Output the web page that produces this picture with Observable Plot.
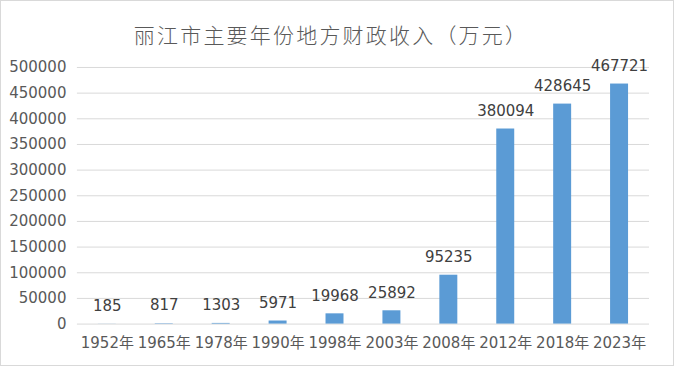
<!DOCTYPE html>
<html>
<head>
<meta charset="utf-8">
<script src="https://cdn.jsdelivr.net/npm/d3@7"></script>
<script src="https://cdn.jsdelivr.net/npm/@observablehq/plot@0.6"></script>
<style>
  html, body { margin: 0; padding: 0; background: #fff; }
  #chart {
    position: relative; width: 674px; height: 366px; box-sizing: border-box;
    border: 1px solid #d9d9d9; background: #fff; overflow: hidden;
  }
  #title {
    position: absolute; left: 0; top: 19px; width: 660px; text-align: center;
    font-family: "Noto Sans CJK SC", sans-serif; font-weight: 300; font-size: 21px;
    letter-spacing: 2.2px; color: #595959; line-height: 28px;
  }
  #plot { position: absolute; left: -1px; top: 49px; }
</style>
</head>
<body>
<div id="chart">
  <div id="title">丽江市主要年份地方财政收入（万元）</div>
  <div id="plot"></div>
</div>
<script>
const years = ["1952年","1965年","1978年","1990年","1998年","2003年","2008年","2012年","2018年","2023年"];
const revenue = [185, 817, 1303, 5971, 19968, 25892, 95235, 380094, 428645, 467721];
const yTicks = [0, 50000, 100000, 150000, 200000, 250000, 300000, 350000, 400000, 450000, 500000];

const data = years.map((y, i) => ({year: y, value: revenue[i]}));
const font = "'DejaVu Sans', 'Noto Sans CJK SC', sans-serif";

const chart = Plot.plot({
  width: 674,
  height: 316,
  marginLeft: 77,
  marginRight: 24,
  marginTop: 17,
  marginBottom: 42,
  style: {fontFamily: font, fontSize: "15px", color: "#595959", background: "transparent"},
  x: {domain: years, paddingInner: 0.685, paddingOuter: 0.3425, label: null},
  y: {domain: [0, 500000], label: null},
  marks: [
    Plot.ruleY(yTicks, {stroke: "#d9d9d9", strokeWidth: 1}),
    Plot.axisY({ticks: yTicks, tickSize: 0, tickPadding: 11, tickFormat: d => String(d), fontSize: 15, fill: "#595959", label: null}),
    Plot.axisX({tickSize: 0, tickPadding: 13, fontSize: 15, fill: "#595959", label: null}),
    Plot.barY(data, {x: "year", y: "value", fill: "#5B9BD5"}),
    Plot.text(data, {x: "year", y: "value", text: d => String(d.value), dy: -18, fontSize: 15, fill: "#404040"})
  ]
});
document.getElementById("plot").appendChild(chart);
</script>
</body>
</html>
